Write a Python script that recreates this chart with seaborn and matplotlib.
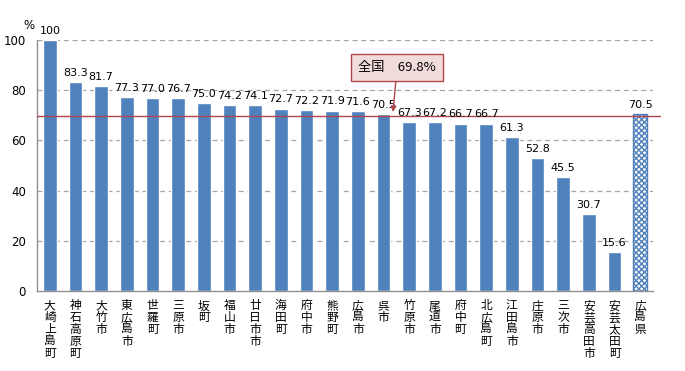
import matplotlib
matplotlib.use("Agg")
import matplotlib.pyplot as plt
import seaborn as sns
import pandas as pd

categories = ["大崎上島町", "神石高原町", "大竹市", "東広島市", "世羅町", "三原市", "坂町", "福山市",
              "廿日市市", "海田町", "府中市", "熊野町", "広島市", "呉市", "竹原市", "尾道市",
              "府中町", "北広島町", "江田島市", "庄原市", "三次市", "安芸高田市", "安芸太田町", "広島県"]
values = [100, 83.3, 81.7, 77.3, 77.0, 76.7, 75.0, 74.2, 74.1, 72.7, 72.2, 71.9, 71.6, 70.5,
          67.3, 67.2, 66.7, 66.7, 61.3, 52.8, 45.5, 30.7, 15.6, 70.5]
national = 69.8
national_label = "全国　69.8%"
yticks = [0, 20, 40, 60, 80, 100]

sns.set_theme(style="white")
plt.rcParams['font.family'] = ['Noto Sans CJK JP', 'DejaVu Sans']
plt.rcParams['hatch.linewidth'] = 1.0
plt.rcParams['text.color'] = 'black'
plt.rcParams['xtick.color'] = 'black'
plt.rcParams['ytick.color'] = 'black'

df = pd.DataFrame({"name": categories, "value": values})

fig = plt.figure(figsize=(6.85, 3.71), dpi=100)
ax = fig.add_axes([37/685, 1 - 291/371, 616/685, 251/371])

blue = "#4F81BD"
sns.barplot(data=df, x="name", y="value", color=blue, saturation=1, width=0.52, ax=ax)

last = ax.patches[-1]
last.set_facecolor("white")
last.set_edgecolor(blue)
last.set_hatch("xxxxxx")
last.set_linewidth(1.0)

ax.set_ylim(0, 100)
ax.set_xlim(-0.5, 23.5)
ax.set_yticks(yticks)
ax.set_yticklabels([str(v) for v in yticks], fontsize=8.5, family=['DejaVu Sans'])
for y in yticks[1:]:
    ax.axhline(y, color="#A6A6A6", linestyle=(0, (4, 3)), linewidth=0.9, zorder=0)

ax.axhline(national, color="#B0454A", linewidth=1.0, zorder=3, xmax=1.012, clip_on=False)

ax.bar_label(ax.containers[0], labels=[f"{v:g}" if v == 100 else f"{v:.1f}" for v in values],
             padding=3, fontsize=8, family=['DejaVu Sans'], color='black')

ax.set_xticks(range(len(categories)))
ax.set_xticklabels(["\n".join(c) for c in categories], fontsize=8.5, va="top", linespacing=0.9)
ax.tick_params(axis="x", length=0, pad=6)
ax.tick_params(axis="y", length=0, pad=8)
ax.set_xlabel("")
ax.set_ylabel("")

for s in ["top", "right"]:
    ax.spines[s].set_visible(False)
for s in ["left", "bottom"]:
    ax.spines[s].set_color("#909090")
    ax.spines[s].set_linewidth(1.0)

ax.text(-0.6, 103, "%", fontsize=8.5, ha="right", va="bottom", family=['DejaVu Sans'])

ax.annotate(national_label, xy=(13.37, national + 1.5), xytext=(13.53, 89),
            fontsize=9.5, ha="center", va="center",
            bbox=dict(boxstyle="square,pad=0.55", fc="#F2DCDB", ec="#B0454A", lw=1.0),
            arrowprops=dict(arrowstyle="-|>", color="#B0454A", lw=1.0, mutation_scale=8,
                            shrinkA=0, shrinkB=0),
            zorder=5)

fig.savefig("out.png", dpi=100)
